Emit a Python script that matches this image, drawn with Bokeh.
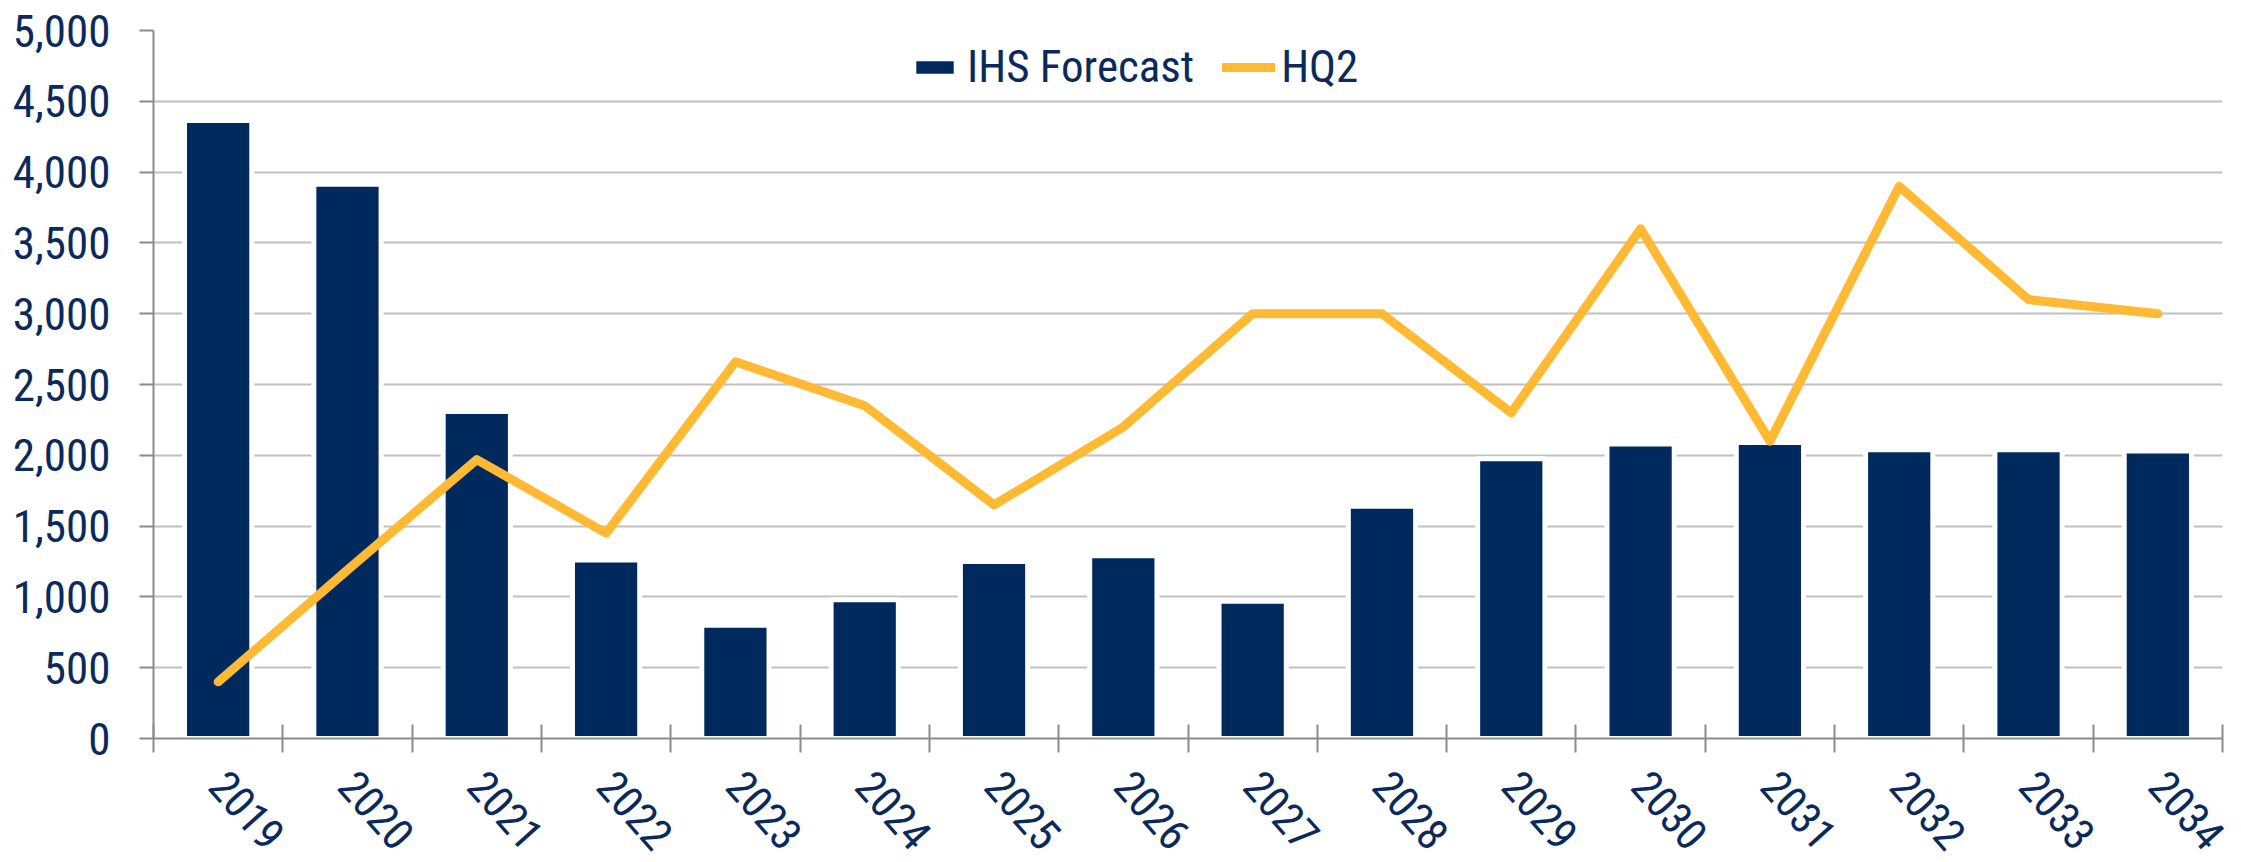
from bokeh.plotting import figure
from bokeh.models import (Range1d, FixedTicker, NumeralTickFormatter, Legend, LegendItem,
                          ColumnDataSource)
from bokeh.embed import file_html
from bokeh.resources import INLINE

years = ["2019", "2020", "2021", "2022", "2023", "2024", "2025", "2026",
         "2027", "2028", "2029", "2030", "2031", "2032", "2033", "2034"]
ihs_forecast = [4365, 3915, 2310, 1260, 800, 980, 1250, 1290,
                970, 1640, 1975, 2080, 2090, 2040, 2040, 2030]
hq2 = [400, 1190, 1970, 1450, 2660, 2350, 1650, 2200,
       3000, 3000, 2300, 3600, 2100, 3900, 3100, 3000]
y_ticks = [0, 500, 1000, 1500, 2000, 2500, 3000, 3500, 4000, 4500, 5000]

NAVY = "#002A5E"
GOLD = "#FFB933"
TEXT = "#0B2A5C"
GRID = "#C0C0C0"
AXIS = "#8C8C8C"
FONT = "Roboto Condensed"

x_centers = [i + 0.5 for i in range(len(years))]
src = ColumnDataSource(dict(x=x_centers, ihs=ihs_forecast, hq2=hq2))

p = figure(frame_width=2069, frame_height=708, output_backend="svg", toolbar_location=None,
           x_range=Range1d(0, len(years)), y_range=Range1d(0, 5000),
           min_border_left=153, min_border_right=19, min_border_top=30,
           min_border_bottom=10)
p.outline_line_color = None
p.background_fill_color = "white"

bars = p.vbar(x="x", top="ihs", width=0.52, source=src, fill_color=NAVY,
              line_color="white", line_width=5)
line = p.line(x="x", y="hq2", source=src, line_color=GOLD, line_width=9,
              line_cap="round", line_join="round")

# y axis
p.yaxis.ticker = FixedTicker(ticks=y_ticks)
p.yaxis.formatter = NumeralTickFormatter(format="0,0")
p.yaxis.major_label_text_font = FONT
p.yaxis.major_label_text_font_size = "45px"
p.yaxis.major_label_text_color = TEXT
p.yaxis.axis_line_color = AXIS
p.yaxis.axis_line_width = 2
p.yaxis.major_tick_in = 0
p.yaxis.major_tick_out = 14
p.yaxis.major_tick_line_color = AXIS
p.yaxis.major_tick_line_width = 2
p.yaxis.minor_tick_line_color = None
p.yaxis.major_label_standoff = 29

# x axis
p.xaxis.ticker = FixedTicker(ticks=x_centers, minor_ticks=list(range(len(years) + 1)))
p.xaxis.major_label_overrides = {x: y for x, y in zip(x_centers, years)}
p.xaxis.major_label_orientation = -0.84
p.xaxis.major_label_text_font = FONT
p.xaxis.major_label_text_font_size = "44px"
p.xaxis.major_label_text_color = TEXT
p.xaxis.major_tick_line_color = None
p.xaxis.major_tick_out = 14
p.xaxis.major_tick_in = 0
p.xaxis.minor_tick_in = 14
p.xaxis.minor_tick_out = 14
p.xaxis.minor_tick_line_color = AXIS
p.xaxis.minor_tick_line_width = 2
p.xaxis.axis_line_color = AXIS
p.xaxis.axis_line_width = 2
p.xaxis.major_label_standoff = 25

p.xgrid.grid_line_color = None
p.ygrid.ticker = FixedTicker(ticks=y_ticks)
p.ygrid.grid_line_color = GRID
p.ygrid.grid_line_width = 2

legend = Legend(items=[LegendItem(label="IHS Forecast", renderers=[bars]),
                       LegendItem(label="HQ2", renderers=[line])],
                orientation="horizontal", location=(755, 645),
                label_text_font=FONT,
                label_text_font_size="45px", label_text_color=TEXT,
                glyph_width=53, glyph_height=22, label_standoff=6, spacing=28,
                padding=0, margin=0, background_fill_alpha=0, border_line_alpha=0)
p.add_layout(legend, "center")

open("out.html", "w").write(file_html(p, INLINE))
